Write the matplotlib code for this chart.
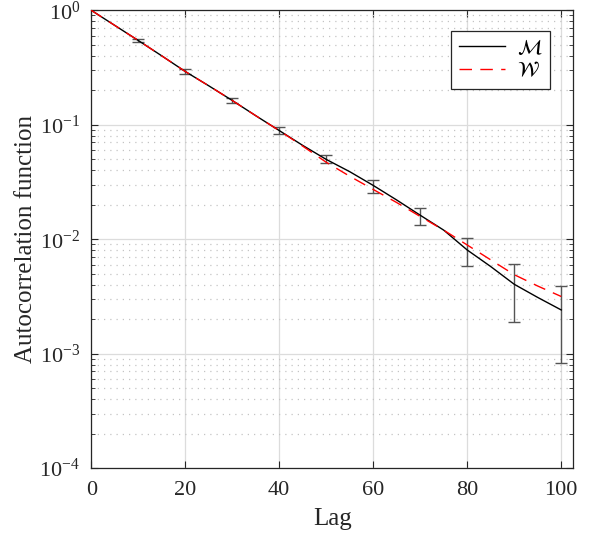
import numpy as np
import matplotlib
matplotlib.use("Agg")
import matplotlib.pyplot as plt
from matplotlib.ticker import FixedLocator, FuncFormatter, LogLocator, NullFormatter

plt.rcParams['font.family'] = ['Liberation Serif', 'DejaVu Serif']
plt.rcParams['mathtext.fontset'] = 'stix'
plt.rcParams['axes.unicode_minus'] = False

# Data
lags = [0, 5, 10, 15, 20, 25, 30, 35, 40, 45, 50, 55, 60, 65, 70, 75, 80, 85, 90, 95, 100]
acf_M = [1.0, 0.738, 0.545, 0.400, 0.292, 0.219, 0.163, 0.120, 0.089, 0.066, 0.0498,
         0.0389, 0.0295, 0.0220, 0.0162, 0.0120, 0.00805, 0.00577, 0.00404, 0.0031, 0.00241]
acf_W = [1.0, 0.738, 0.545, 0.400, 0.292, 0.219, 0.163, 0.120, 0.089, 0.065, 0.0470,
         0.0355, 0.0272, 0.0209, 0.0158, 0.0120, 0.0089, 0.0066, 0.0049, 0.0039, 0.00316]

err_lags = [10, 20, 30, 40, 50, 60, 70, 80, 90, 100]
err_center = [0.544, 0.292, 0.163, 0.089, 0.0498, 0.0291, 0.0157, 0.00773, 0.0034, 0.00182]
err_low = [0.530, 0.280, 0.154, 0.0834, 0.0459, 0.0255, 0.0132, 0.0058, 0.0019, 0.00083]
err_high = [0.558, 0.308, 0.171, 0.0947, 0.0543, 0.0327, 0.0187, 0.01023, 0.00612, 0.00394]

x_ticks = [0, 20, 40, 60, 80, 100]

fig = plt.figure(figsize=(6.0, 5.4), dpi=100)
ax = fig.add_axes([0.152, 0.133, 0.803, 0.848])

ax.set_yscale('log')
ax.set_xlim(0, 102.5)
ax.set_ylim(1e-4, 1)

c = np.array(err_center)
yerr = np.vstack([c - np.array(err_low), np.array(err_high) - c])
ax.errorbar(err_lags, err_center, yerr=yerr, fmt='none', ecolor='#555555',
            elinewidth=1.0, capsize=4.5, capthick=1.0, zorder=2)

ax.plot(lags, acf_M, color='black', lw=1.0, label=r'$\mathcal{M}$', zorder=3)
ax.plot(lags, acf_W, color='red', lw=1.0, ls=(0, (9, 6)), label=r'$\mathcal{W}$', zorder=4)

ax.xaxis.set_major_locator(FixedLocator(x_ticks))
ax.yaxis.set_major_locator(LogLocator(base=10, numticks=10))
ax.yaxis.set_minor_locator(LogLocator(base=10, subs=np.arange(2, 10), numticks=20))
ax.yaxis.set_minor_formatter(NullFormatter())
ax.yaxis.set_major_formatter(FuncFormatter(
    lambda v, p: r'$\mathdefault{10^{%d}}$' % int(round(np.log10(v)))))

ax.grid(True, which='major', color='#dcdcdc', lw=0.9, ls='-')
ax.grid(True, which='minor', axis='y', color='#c4c4c4', lw=0.9, ls=(0, (1, 4)))
ax.set_axisbelow(True)

ax.tick_params(which='both', direction='in', top=True, right=True, labelsize=16, colors='#262626')
ax.tick_params(which='major', length=5, width=0.8)
ax.tick_params(which='minor', length=3, width=0.6)
ax.tick_params(axis='x', pad=9)
ax.tick_params(axis='y', pad=8)
for s in ax.spines.values():
    s.set_color('#262626')
    s.set_linewidth(0.9)

ax.set_xlabel('Lag', fontsize=18, color='#262626', labelpad=6)
ax.set_ylabel('Autocorrelation function', fontsize=18, color='#262626', labelpad=2)

leg = ax.legend(loc='upper right', bbox_to_anchor=(0.952, 0.954), fontsize=15,
                frameon=True, fancybox=False, handlelength=2.2, borderpad=0.35,
                labelspacing=0.15, handletextpad=0.6, borderaxespad=0)
leg.get_frame().set_edgecolor('#262626')
leg.get_frame().set_linewidth(0.9)
leg.get_frame().set_alpha(1)

fig.savefig('out.png', dpi=100)
